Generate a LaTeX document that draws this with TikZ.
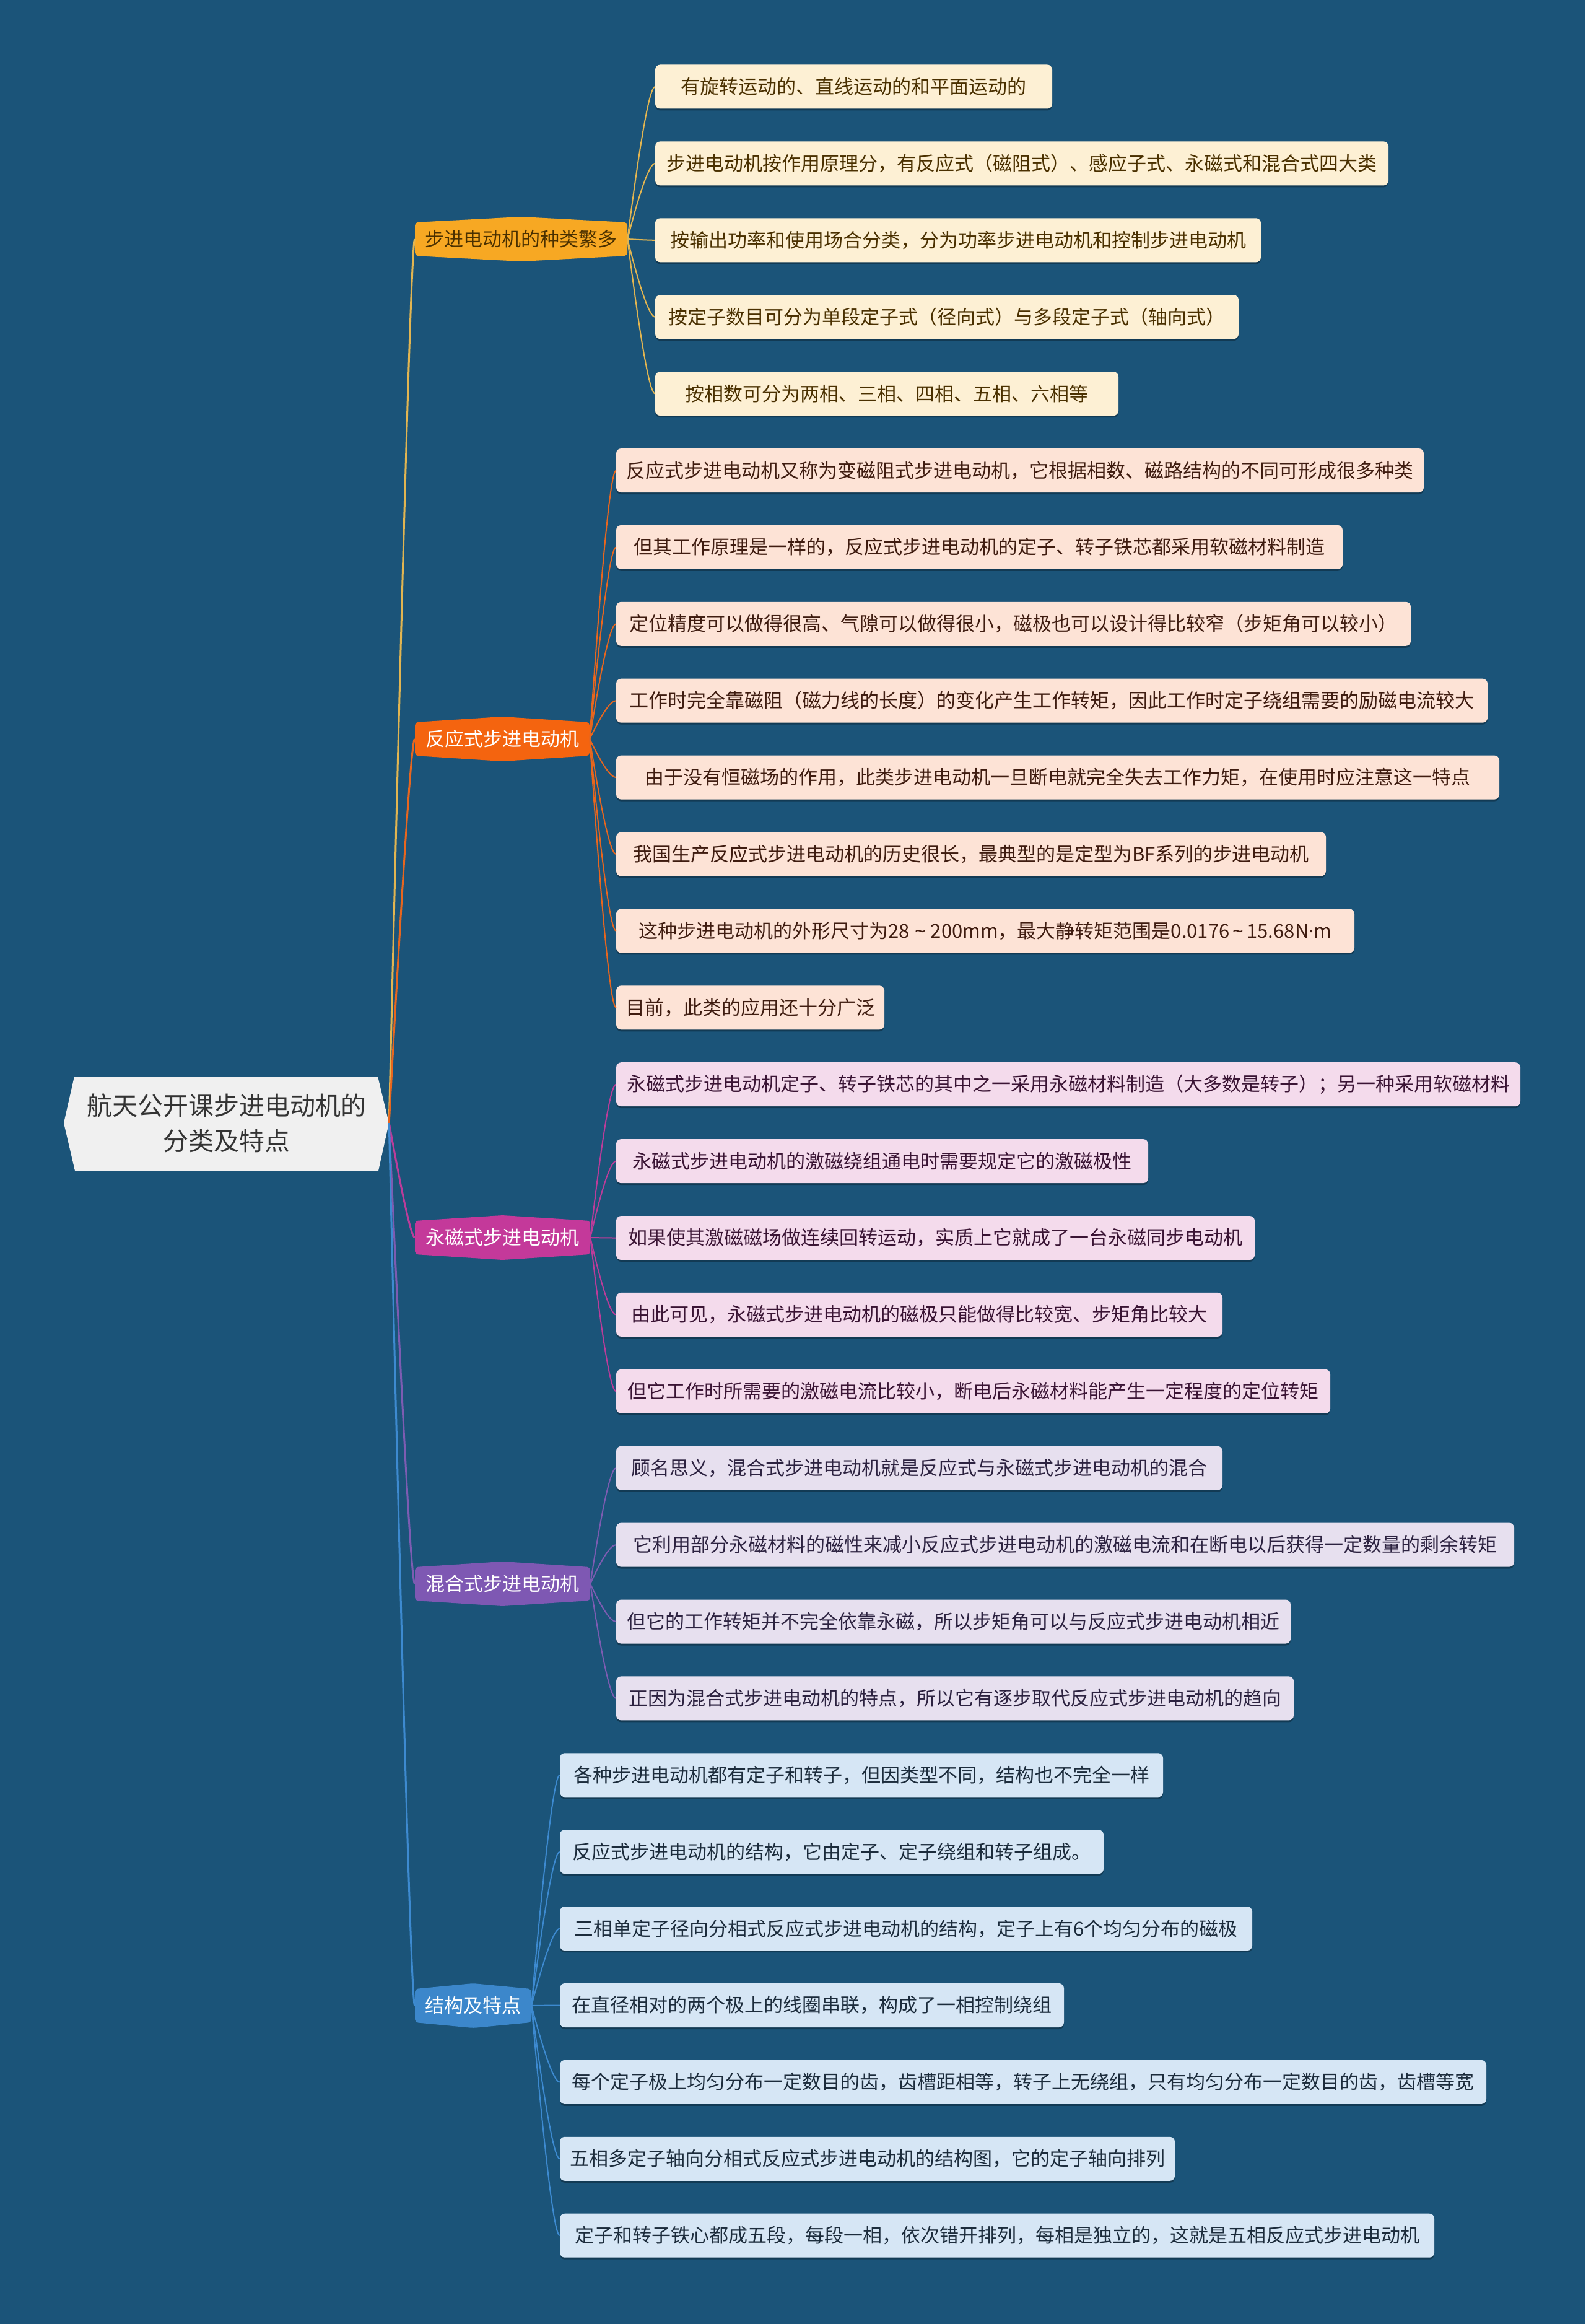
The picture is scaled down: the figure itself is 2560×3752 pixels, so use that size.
\documentclass[tikz,border=0pt]{standalone}
\usepackage{fontspec}
\newfontfamily\cjk{Noto Sans CJK SC}
\newfontfamily\latin{Noto Sans}
\usetikzlibrary{calc,shadows}
\definecolor{bg}{HTML}{1B5479}
\definecolor{rootfill}{HTML}{F0F0F0}
\definecolor{bA}{HTML}{F7A823}
\definecolor{bB}{HTML}{F4640F}
\definecolor{bC}{HTML}{C4399A}
\definecolor{bD}{HTML}{7E58B3}
\definecolor{bE}{HTML}{3C87CB}
\definecolor{lA}{HTML}{E2B551}
\definecolor{lB}{HTML}{E8661E}
\definecolor{lC}{HTML}{BC3C9A}
\definecolor{lD}{HTML}{7D5CB2}
\definecolor{lE}{HTML}{3D8AD0}
\definecolor{fA}{HTML}{FDF0D4}
\definecolor{fB}{HTML}{FDE3D6}
\definecolor{fC}{HTML}{F4DBEC}
\definecolor{fD}{HTML}{E7E0EF}
\definecolor{fE}{HTML}{D6E6F5}
\definecolor{tA}{HTML}{4A3000}
\definecolor{tB}{HTML}{3F1C10}
\definecolor{tC}{HTML}{3A1434}
\definecolor{tD}{HTML}{2C2240}
\definecolor{tE}{HTML}{1C2C3C}
\newcommand\leafnode[7]{%
  \node[leafbox, fill=#5, text=#6, minimum width={(#4-#3)*1pt}]
    (#1) at ({(#3+#4)/2},{-(140+123.9*#2)}) {#7};}
\newcommand\branchnode[7]{%
  \fill[#5, rounded corners=5pt] ({#2-#4/2},{#3+27}) -- (#2,{#3+36}) -- ({#2+#4/2},{#3+27})
    -- ({#2+#4/2},{#3-27}) -- (#2,{#3-36}) -- ({#2-#4/2},{#3-27}) -- cycle;
  \node[branchbox, text=#6, minimum width={#4*1pt}] (#1) at (#2,#3) {#7};}
\newcommand\conn[4]{%
  \draw[#1] let \p1=(#2), \p2=(#3) in (\p1) .. controls ({\x1+0.667*(\x2-\x1-#4pt)},{\y1+0.667*(\y2-\y1)}) and ({\x2-0.667*#4pt},\y2) .. (\p2);}
\begin{document}
\begin{tikzpicture}[x=1pt,y=1pt,
  leafbox/.style={rectangle, rounded corners=8pt, minimum height=71pt, inner sep=0pt,
    font=\cjk\fontsize{31}{37}\selectfont, align=center,
    drop shadow={shadow xshift=0pt, shadow yshift=-3pt, opacity=0.3, fill=black}},
  branchbox/.style={rectangle, minimum height=54pt, inner sep=0pt,
    font=\cjk\fontsize{31}{37}\selectfont},
  rootline/.style={line width=3pt},
  leafline/.style={line width=2pt}]
\useasboundingbox (0,0) rectangle (2560,-3752);
\fill[bg] (0,0) rectangle (2560,-3752);
% root
\fill[rootfill] (103,-1813) -- (120,-1738) -- (610,-1738) -- (628,-1813) -- (611,-1890) -- (121,-1890) -- cycle;
\node[rectangle, minimum width=525pt, minimum height=152pt, inner sep=0pt, align=center,
  text={rgb,255:red,51;green,51;blue,51}, font=\cjk\fontsize{41}{57}\selectfont]
  (root) at (365.5,-1813) {航天公开课步进电动机的\\分类及特点};
% branches
\branchnode{b1}{841.5}{-386}{343}{bA}{tA}{步进电动机的种类繁多}
\branchnode{b2}{811}{-1193}{282}{bB}{white}{反应式步进电动机}
\branchnode{b3}{811.5}{-1998}{283}{bC}{white}{永磁式步进电动机}
\branchnode{b4}{811.5}{-2557}{283}{bD}{white}{混合式步进电动机}
\branchnode{b5}{764}{-3238}{188}{bE}{white}{结构及特点}
% leaves
\leafnode{a0}{0}{1058}{1699}{fA}{tA}{有旋转运动的、直线运动的和平面运动的}
\leafnode{a1}{1}{1058}{2242}{fA}{tA}{步进电动机按作用原理分，有反应式（磁阻式）、感应子式、永磁式和混合式四大类}
\leafnode{a2}{2}{1058}{2036}{fA}{tA}{按输出功率和使用场合分类，分为功率步进电动机和控制步进电动机}
\leafnode{a3}{3}{1058}{2000}{fA}{tA}{按定子数目可分为单段定子式（径向式）与多段定子式（轴向式）}
\leafnode{a4}{4}{1058}{1806}{fA}{tA}{按相数可分为两相、三相、四相、五相、六相等}
\leafnode{c5}{5}{995}{2299}{fB}{tB}{反应式步进电动机又称为变磁阻式步进电动机，它根据相数、磁路结构的不同可形成很多种类}
\leafnode{c6}{6}{995}{2168}{fB}{tB}{但其工作原理是一样的，反应式步进电动机的定子、转子铁芯都采用软磁材料制造}
\leafnode{c7}{7}{995}{2278}{fB}{tB}{定位精度可以做得很高、气隙可以做得很小，磁极也可以设计得比较窄（步矩角可以较小）}
\leafnode{c8}{8}{995}{2402}{fB}{tB}{工作时完全靠磁阻（磁力线的长度）的变化产生工作转矩，因此工作时定子绕组需要的励磁电流较大}
\leafnode{c9}{9}{995}{2421}{fB}{tB}{由于没有恒磁场的作用，此类步进电动机一旦断电就完全失去工作力矩，在使用时应注意这一特点}
\leafnode{c10}{10}{995}{2141}{fB}{tB}{我国生产反应式步进电动机的历史很长，最典型的是定型为BF系列的步进电动机}
\leafnode{c11}{11}{995}{2187}{fB}{tB}{这种步进电动机的外形尺寸为28{\latin\ \textasciitilde\ }200mm，最大静转矩范围是0.0176{\latin\,\textasciitilde\,}15.68N{\latin ·}m}
\leafnode{c12}{12}{995}{1428}{fB}{tB}{目前，此类的应用还十分广泛}
\leafnode{d13}{13}{995}{2455}{fC}{tC}{永磁式步进电动机定子、转子铁芯的其中之一采用永磁材料制造（大多数是转子）；另一种采用软磁材料}
\leafnode{d14}{14}{995}{1854}{fC}{tC}{永磁式步进电动机的激磁绕组通电时需要规定它的激磁极性}
\leafnode{d15}{15}{995}{2026}{fC}{tC}{如果使其激磁磁场做连续回转运动，实质上它就成了一台永磁同步电动机}
\leafnode{d16}{16}{995}{1974}{fC}{tC}{由此可见，永磁式步进电动机的磁极只能做得比较宽、步矩角比较大}
\leafnode{d17}{17}{995}{2148}{fC}{tC}{但它工作时所需要的激磁电流比较小，断电后永磁材料能产生一定程度的定位转矩}
\leafnode{e18}{18}{995}{1974}{fD}{tD}{顾名思义，混合式步进电动机就是反应式与永磁式步进电动机的混合}
\leafnode{e19}{19}{995}{2445}{fD}{tD}{它利用部分永磁材料的磁性来减小反应式步进电动机的激磁电流和在断电以后获得一定数量的剩余转矩}
\leafnode{e20}{20}{995}{2084}{fD}{tD}{但它的工作转矩并不完全依靠永磁，所以步矩角可以与反应式步进电动机相近}
\leafnode{e21}{21}{995}{2089}{fD}{tD}{正因为混合式步进电动机的特点，所以它有逐步取代反应式步进电动机的趋向}
\leafnode{g22}{22}{904}{1878}{fE}{tE}{各种步进电动机都有定子和转子，但因类型不同，结构也不完全一样}
\leafnode{g23}{23}{904}{1782}{fE}{tE}{反应式步进电动机的结构，它由定子、定子绕组和转子组成。}
\leafnode{g24}{24}{904}{2022}{fE}{tE}{三相单定子径向分相式反应式步进电动机的结构，定子上有6个均匀分布的磁极}
\leafnode{g25}{25}{904}{1718}{fE}{tE}{在直径相对的两个极上的线圈串联，构成了一相控制绕组}
\leafnode{g26}{26}{904}{2400}{fE}{tE}{每个定子极上均匀分布一定数目的齿，齿槽距相等，转子上无绕组，只有均匀分布一定数目的齿，齿槽等宽}
\leafnode{g27}{27}{904}{1897}{fE}{tE}{五相多定子轴向分相式反应式步进电动机的结构图，它的定子轴向排列}
\leafnode{g28}{28}{904}{2316}{fE}{tE}{定子和转子铁心都成五段，每段一相，依次错开排列，每相是独立的，这就是五相反应式步进电动机}
% root connectors
\conn{rootline,lA}{root.east}{b1.west}{8}
\conn{rootline,lB}{root.east}{b2.west}{8}
\conn{rootline,lC}{root.east}{b3.west}{8}
\conn{rootline,lD}{root.east}{b4.west}{8}
\conn{rootline,lE}{root.east}{b5.west}{8}
% leaf connectors
\foreach \nm in {a0,a1,a2,a3,a4} {\conn{leafline,lA}{b1.east}{\nm.west}{13}}
\foreach \nm in {c5,c6,c7,c8,c9,c10,c11,c12} {\conn{leafline,lB}{b2.east}{\nm.west}{13}}
\foreach \nm in {d13,d14,d15,d16,d17} {\conn{leafline,lC}{b3.east}{\nm.west}{13}}
\foreach \nm in {e18,e19,e20,e21} {\conn{leafline,lD}{b4.east}{\nm.west}{13}}
\foreach \nm in {g22,g23,g24,g25,g26,g27,g28} {\conn{leafline,lE}{b5.east}{\nm.west}{13}}
\end{tikzpicture}
\end{document}
